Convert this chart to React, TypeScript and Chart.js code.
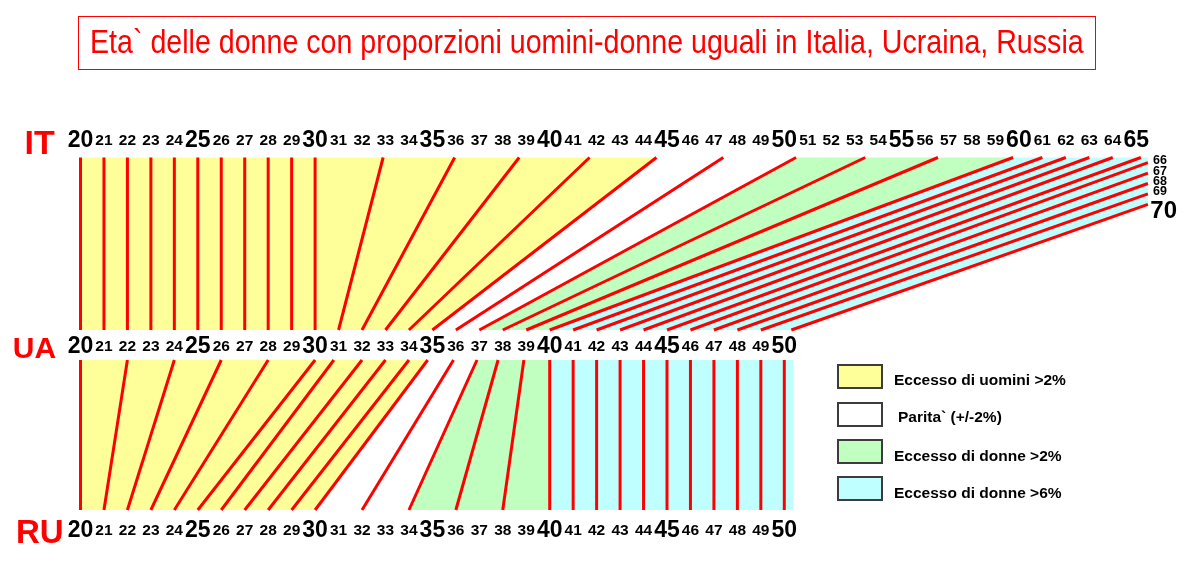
import { useEffect, useRef } from "react"
import { Chart, registerables, type ChartConfiguration } from "chart.js"

Chart.register(...registerables)

// Tick labels of the three age rows
const itTopAges = [
  20, 21, 22, 23, 24, 25, 26, 27, 28, 29, 30, 31, 32, 33, 34, 35, 36, 37, 38, 39, 40, 41, 42,
  43, 44, 45, 46, 47, 48, 49, 50, 51, 52, 53, 54, 55, 56, 57, 58, 59, 60, 61, 62, 63, 64, 65,
]
const itSideAges = [66, 67, 68, 69]
const itSideBigAges = [70]
const uaRowAges = [
  20, 21, 22, 23, 24, 25, 26, 27, 28, 29, 30, 31, 32, 33, 34, 35, 36, 37, 38, 39, 40, 41, 42,
  43, 44, 45, 46, 47, 48, 49, 50,
]
const ruRowAges = [
  20, 21, 22, 23, 24, 25, 26, 27, 28, 29, 30, 31, 32, 33, 34, 35, 36, 37, 38, 39, 40, 41, 42,
  43, 44, 45, 46, 47, 48, 49, 50,
]

// Ukraine <-> Italy: ages with the same men/women proportion
const uaToItUa = [
  20, 21, 22, 23, 24, 25, 26, 27, 28, 29, 30, 31, 32, 33, 34, 35, 36, 37, 38, 39, 40, 41, 42,
  43, 44, 45, 46, 47, 48, 49, 50.3,
]
const uaToItIt = [
  20, 21, 22, 23, 24, 25, 26, 27, 28, 29, 30, 32.9, 35.95, 38.7, 41.7, 44.55, 47.4, 50.5, 53.45,
  56.55, 59.75, 61, 62, 63, 64, 65.2, 66, 67, 68, 69, 70,
]

// Russia <-> Ukraine
const ruToUaRu = [
  20, 21, 22, 23, 24, 25, 26, 27, 28, 29, 30, 32, 34, 36, 38, 40, 41, 42, 43, 44, 45, 46, 47,
  48, 49, 50,
]
const ruToUaUa = [
  20, 22, 24, 26, 28, 30, 30.8, 32, 33, 34, 34.8, 35.9, 36.9, 37.8, 38.9, 40, 41, 42, 43, 44,
  45, 46, 47, 48, 49, 50,
]

// Colour bands: link index that opens / closes each band
const bandLabels = [
  "Eccesso di uomini >2%",
  "Parita` (+/-2%)",
  "Eccesso di donne >2%",
  "Eccesso di donne >6%",
]
const bandColors = ["#ffff99", "#ffffff", "#c0ffc0", "#c0ffff"]
const itBandStart = [0, 15, 17, 20]
const itBandEnd = [15, 17, 20, 30]
const ruBandStart = [0, 10, 12, 15]
const ruBandEnd = [10, 12, 15, 25]

// Layout (pixels of the 1198x570 picture)
const W = 1198
const H = 570
const PX_AGE20 = 80.5
const PX_PER_YEAR = 23.46
const X_MIN = 20 - PX_AGE20 / PX_PER_YEAR
const X_MAX = X_MIN + W / PX_PER_YEAR
const ageAtPx = (px: number) => 20 + (px - PX_AGE20) / PX_PER_YEAR

const IT_ROW = 141
const IT_EDGE = 157.5
const UA_TOP = 330
const UA_ROW = 347
const UA_BOTTOM = 360
const RU_EDGE = 510
const RU_ROW = 530.5
const IT_CORNER = 65.5
const IT_SIDE_STEP = 10.4
const RU_END = 50.4
const SIDE_MIN = IT_CORNER - IT_EDGE / IT_SIDE_STEP
const SIDE_RANGE = H / IT_SIDE_STEP

const FONT = "'Liberation Sans', Arial, sans-serif"
const RED = "#ff0000"

type Pt = { x: number; y: number }

// Italian scale runs along the top, then turns down the right side
function itPoint(age: number): Pt {
  if (age <= IT_CORNER) return { x: age, y: IT_EDGE }
  return { x: IT_CORNER, y: IT_EDGE + (age - IT_CORNER) * IT_SIDE_STEP }
}

function itEdge(from: number, to: number): Pt[] {
  const pts = [itPoint(from)]
  if (from < IT_CORNER && to > IT_CORNER) pts.push({ x: IT_CORNER, y: IT_EDGE })
  pts.push(itPoint(to))
  return pts
}

function band(label: string, color: string, poly: Pt[]) {
  return {
    label,
    data: poly,
    showLine: true,
    fill: "shape",
    backgroundColor: color,
    borderWidth: 0,
    pointRadius: 0,
    tension: 0,
    order: 2,
  }
}

function link(label: string, a: Pt, b: Pt) {
  return {
    label,
    data: [a, b],
    showLine: true,
    fill: false,
    borderColor: RED,
    borderWidth: 3,
    pointRadius: 0,
    tension: 0,
    order: 1,
  }
}

function buildDatasets() {
  const sets: any[] = []

  bandColors.forEach((color, b) => {
    const s = itBandStart[b]
    const e = itBandEnd[b]
    sets.push(
      band(bandLabels[b], color, [
        { x: uaToItUa[s], y: UA_TOP },
        ...itEdge(uaToItIt[s], uaToItIt[e]),
        { x: uaToItUa[e], y: UA_TOP },
        { x: uaToItUa[s], y: UA_TOP },
      ])
    )
  })

  bandColors.forEach((color, b) => {
    const s = ruBandStart[b]
    const e = ruBandEnd[b]
    const last = e === ruToUaRu.length - 1
    sets.push(
      band(bandLabels[b], color, [
        { x: ruToUaRu[s], y: RU_EDGE },
        { x: ruToUaUa[s], y: UA_BOTTOM },
        { x: last ? RU_END : ruToUaUa[e], y: UA_BOTTOM },
        { x: last ? RU_END : ruToUaRu[e], y: RU_EDGE },
        { x: ruToUaRu[s], y: RU_EDGE },
      ])
    )
  })

  uaToItUa.forEach((ua, i) => {
    sets.push(link(`UA ${ua} - IT ${uaToItIt[i]}`, { x: ua, y: UA_TOP }, itPoint(uaToItIt[i])))
  })

  ruToUaRu.forEach((ru, i) => {
    sets.push(
      link(`RU ${ru} - UA ${ruToUaUa[i]}`, { x: ru, y: RU_EDGE }, { x: ruToUaUa[i], y: UA_BOTTOM })
    )
  })

  return sets
}

const tickFont = (ctx: any) => ({
  family: FONT,
  weight: "bold" as const,
  size: ctx.tick && ctx.tick.value % 5 === 0 ? 23 : 15.5,
  lineHeight: 0,
})

function ageAxis(row: number, ages: number[]) {
  return {
    type: "linear" as const,
    axis: "x" as const,
    position: { y: row },
    min: X_MIN,
    max: X_MAX,
    bounds: "data" as const,
    afterBuildTicks: (scale: any) => {
      scale.ticks = ages.map((value) => ({ value }))
    },
    grid: { display: false, drawTicks: false },
    border: { display: false },
    ticks: {
      autoSkip: false,
      maxRotation: 0,
      minRotation: 0,
      padding: 0,
      color: "#000",
      font: tickFont,
      callback: (v: any) => String(v),
    },
  }
}

// labels down the right side of the Italian scale; nudgePx moves the text off the line end
function sideAxis(rightPx: number, ages: number[], size: number, nudgePx: number) {
  const min = SIDE_MIN - nudgePx / IT_SIDE_STEP
  return {
    type: "linear" as const,
    axis: "y" as const,
    position: { x: ageAtPx(rightPx) },
    reverse: true,
    min,
    max: min + SIDE_RANGE,
    bounds: "data" as const,
    afterBuildTicks: (scale: any) => {
      scale.ticks = ages.map((value) => ({ value }))
    },
    grid: { display: false, drawTicks: false },
    border: { display: false },
    ticks: {
      autoSkip: false,
      padding: 0,
      color: "#000",
      font: { family: FONT, weight: "bold" as const, size, lineHeight: 0 },
      callback: (v: any) => String(v),
    },
  }
}

function AgeChart() {
  const canvasRef = useRef<HTMLCanvasElement>(null)
  const chartRef = useRef<Chart | null>(null)

  useEffect(() => {
    if (!canvasRef.current) return
    if (chartRef.current) chartRef.current.destroy()

    const config: ChartConfiguration = {
      type: "scatter",
      data: { datasets: buildDatasets() },
      options: {
        responsive: true,
        maintainAspectRatio: false,
        animation: false,
        events: [],
        layout: { padding: 0 },
        plugins: {
          legend: { display: false },
          tooltip: { enabled: false },
          title: { display: false },
        },
        scales: {
          x: { type: "linear", min: X_MIN, max: X_MAX, bounds: "data", display: false },
          y: { type: "linear", min: 0, max: H, reverse: true, bounds: "data", display: false },
          xIT: ageAxis(IT_ROW, itTopAges),
          xUA: ageAxis(UA_ROW, uaRowAges),
          xRU: ageAxis(RU_ROW, ruRowAges),
          ySide: sideAxis(1167, itSideAges, 12.5, -2),
          ySideBig: sideAxis(1177, itSideBigAges, 24, 7),
        } as any,
      },
    }

    chartRef.current = new Chart(canvasRef.current, config)
    return () => {
      if (chartRef.current) {
        chartRef.current.destroy()
        chartRef.current = null
      }
    }
  }, [])

  return (
    <div style={{ position: "absolute", left: 0, top: 0, width: W, height: H }}>
      <canvas ref={canvasRef} />
    </div>
  )
}

const countryLabels = [
  { text: "IT", left: 24.5, size: 34, baseline: 154 },
  { text: "UA", left: 12.8, size: 30, baseline: 358.3 },
  { text: "RU", left: 15.9, size: 33, baseline: 543.3 },
]
const legendTops = [364, 402, 438.5, 476]
const legendBaselines = [385, 421.7, 461.5, 498.3]
const legendLefts = [894, 898, 894, 894]

export default function App() {
  return (
    <div
      style={{
        position: "fixed",
        left: 0,
        top: 0,
        width: W,
        height: H,
        background: "#fff",
        overflow: "hidden",
        fontFamily: FONT,
      }}
    >
      <AgeChart />

      <div
        style={{
          position: "absolute",
          left: 78,
          top: 16,
          width: 1018,
          height: 54,
          border: `1px solid ${RED}`,
          boxSizing: "border-box",
        }}
      />
      <div
        style={{
          position: "absolute",
          left: 90,
          top: 54 - 0.8465 * 32.5,
          fontSize: 32.5,
          lineHeight: 1,
          color: RED,
          whiteSpace: "nowrap",
          transform: "scaleX(0.88)",
          transformOrigin: "left top",
        }}
      >
        Eta` delle donne con proporzioni uomini-donne uguali in Italia, Ucraina, Russia
      </div>

      {countryLabels.map((c) => (
        <div
          key={c.text}
          style={{
            position: "absolute",
            left: c.left,
            top: c.baseline - 0.8465 * c.size,
            fontSize: c.size,
            lineHeight: 1,
            fontWeight: "bold",
            color: RED,
          }}
        >
          {c.text}
        </div>
      ))}

      {bandLabels.map((label, i) => (
        <div key={label}>
          <div
            style={{
              position: "absolute",
              left: 837,
              top: legendTops[i],
              width: 46,
              height: 25,
              background: bandColors[i],
              border: "2px solid #3c3c3c",
              boxSizing: "border-box",
            }}
          />
          <div
            style={{
              position: "absolute",
              left: legendLefts[i],
              top: legendBaselines[i] - 0.8465 * 15.5,
              fontSize: 15.5,
              lineHeight: 1,
              fontWeight: "bold",
              color: "#000",
              whiteSpace: "nowrap",
            }}
          >
            {label}
          </div>
        </div>
      ))}
    </div>
  )
}
